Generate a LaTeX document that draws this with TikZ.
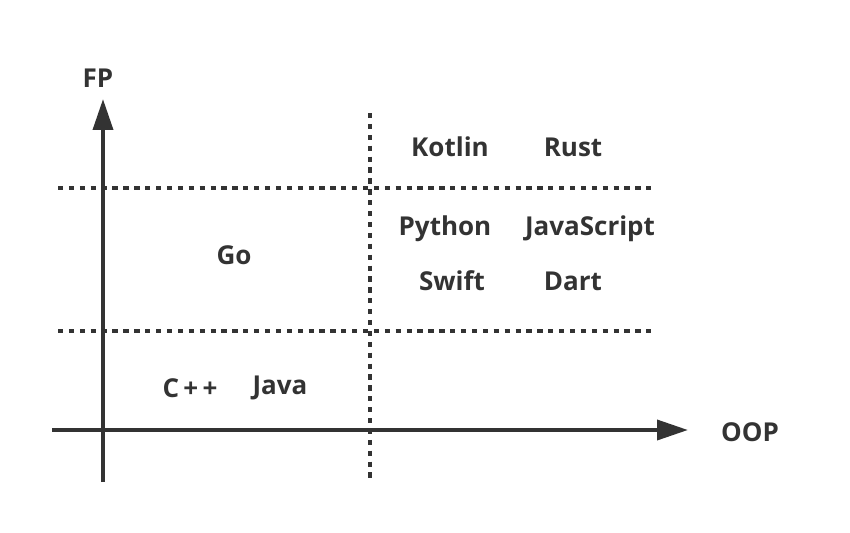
\documentclass[tikz,border=0pt]{standalone}
\usepackage{fontspec}
\setmainfont{Open Sans}
\usetikzlibrary{arrows.meta}

\begin{document}
\begin{tikzpicture}
	[x=0.02cm,y=-0.02cm,line cap=butt,
	%Styles
	axis/.style={draw=axiscolor,line width=2.27pt,-{Triangle[length=17.6pt,width=11.3pt]}},
	split line/.style={draw=axiscolor,line width=2pt,dash pattern=on 3pt off 3.2pt},
	lang/.style={text=axiscolor,font=\fontsize{14.8}{17}\selectfont\bfseries,inner sep=0pt}
	]
	
	%Colors
	\colorlet{axiscolor}{black!80}
	
	\useasboundingbox (0,0) rectangle (850,532);
	
	%Axes
	\coordinate (ybot) at (103,482);
	\coordinate (ytop) at (103,99);
	\coordinate (xleft) at (52,430);
	\coordinate (xright) at (688,430);
	\draw[axis] (ybot) -- (ytop);
	\draw[axis] (xleft) -- (xright);
	\node[lang] (fp) at (98,78) {FP};
	\node[lang] (oop) at (750,432) {OOP};
	
	%Dividers
	\coordinate (vtop) at (370,113);
	\coordinate (vbot) at (370,482);
	\coordinate (hutl) at (58,188);
	\coordinate (hutr) at (655,188);
	\coordinate (hltl) at (58,331);
	\coordinate (hltr) at (655,331);
	\draw[split line] (vtop) -- (vbot);
	\draw[split line] (hutl) -- (hutr);
	\draw[split line] (hltl) -- (hltr);
	
	%Languages
	\node[lang] (kotlin) at (450,147) {Kotlin};
	\node[lang] (rust) at (573,147) {Rust};
	\node[lang] (python) at (445,229) {Python};
	\node[lang] (js) at (590,229) {JavaScript};
	\node[lang] (go) at (234,255) {Go};
	\node[lang] (swift) at (452,281) {Swift};
	\node[lang] (dart) at (573,281) {Dart};
	\node[lang] (cpp) at (190,388) {C\,+\,+};
	\node[lang] (java) at (280,388) {Java};
\end{tikzpicture}
\end{document}
